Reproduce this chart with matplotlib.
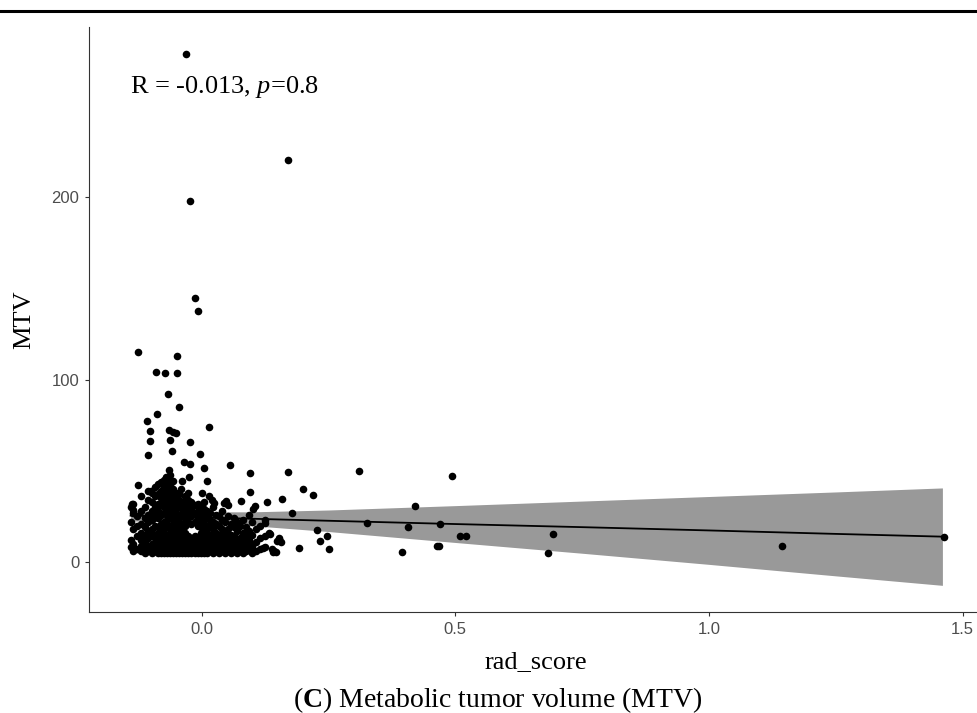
import numpy as np
import matplotlib
matplotlib.use("Agg")
from matplotlib import pyplot as plt
from matplotlib.lines import Line2D

plt.rcParams['mathtext.fontset'] = 'custom'
plt.rcParams['mathtext.rm'] = 'Liberation Serif'
plt.rcParams['mathtext.it'] = 'Liberation Serif:italic'
plt.rcParams['mathtext.bf'] = 'Liberation Serif:bold'

# sparse points (rad_score, MTV)
outlier_x = [-0.031, 0.171, -0.023, -0.014, -0.008, -0.125, -0.048, -0.089, -0.072, -0.048,
             -0.066, -0.045, -0.088, -0.107, 0.015, -0.102, -0.064, -0.056, -0.051, -0.102,
             -0.062, -0.023, -0.106, -0.058, -0.004, -0.034, -0.023, 0.056, 0.005, -0.064,
             -0.062, 0.095, 0.170, -0.071, -0.066, -0.056, -0.025, -0.039, 0.010, -0.125,
             -0.041, 0.199, 0.219, -0.100, 0.096, 0.000, 0.015, 0.020, 0.024, 0.049,
             0.045, 0.078, 0.128, 0.159, 0.101, 0.105, 0.179, -0.138, -0.135, 0.228,
             0.233, 0.248, 0.251, 0.192, 0.121, 0.138, 0.142, 0.152, 0.156, 0.132,
             0.135, 0.311, 0.493, 0.421, 0.099, 0.124, 0.325, 0.406, 0.470, 0.509,
             0.521, 0.394, 0.463, 0.468, 0.148, 0.153, 0.141, 0.147, 0.100, 0.693,
             0.683, 1.144, 1.463]
outlier_y = [278.4, 220.3, 197.6, 144.5, 137.7, 114.9, 112.9, 104.1, 103.6, 103.6,
             92.2, 85.1, 80.9, 77.4, 74.0, 71.6, 72.2, 71.4, 70.7, 66.1,
             66.8, 65.6, 58.8, 60.7, 59.2, 55.0, 53.9, 53.3, 51.5, 50.2,
             47.5, 48.6, 49.1, 46.7, 45.1, 44.5, 46.7, 44.2, 44.4, 42.0,
             40.2, 39.8, 36.7, 38.7, 38.5, 38.0, 36.2, 34.0, 32.5, 33.6,
             32.2, 33.6, 32.7, 34.4, 29.2, 30.7, 26.7, 31.8, 28.5, 17.7,
             11.7, 14.2, 7.3, 7.7, 7.7, 7.1, 6.2, 12.4, 10.8, 15.7,
             15.3, 49.7, 47.1, 30.7, 21.7, 21.2, 21.2, 19.4, 20.7, 14.2,
             14.2, 5.6, 8.9, 8.9, 11.5, 13.0, 5.6, 5.6, 9.3, 15.3,
             5.1, 8.8, 13.9]

# dense cluster near zero, column by column
cluster_x = [-0.140, -0.135, -0.128, -0.120, -0.112, -0.105, -0.098, -0.092, -0.086, -0.080,
             -0.074, -0.068, -0.062, -0.056, -0.050, -0.044, -0.038, -0.032, -0.026, -0.020,
             -0.014, -0.008, -0.002, 0.004, 0.010, 0.016, 0.022, 0.028, 0.034, 0.040,
             0.046, 0.052, 0.058, 0.064, 0.070, 0.076, 0.082, 0.088, 0.094, 0.100,
             0.108, 0.116, 0.125]
cluster_y = [
    [8, 12, 22, 30],
    [6, 10, 18, 27, 32],
    [7, 14, 20, 25],
    [6, 9, 12, 16, 21, 28, 36],
    [5, 8, 11, 15, 19, 24, 30],
    [6, 9, 13, 17, 22, 26, 34, 39],
    [5, 7, 10, 14, 18, 23, 28, 33, 38],
    [6, 8, 11, 15, 20, 25, 30, 36, 41],
    [5, 7, 9, 12, 16, 19, 24, 28, 32, 37, 43],
    [5, 6, 8, 10, 13, 17, 21, 26, 31, 35, 39, 44],
    [5, 7, 9, 11, 14, 18, 22, 27, 30, 34, 38, 41, 45],
    [5, 6, 8, 10, 12, 15, 19, 23, 26, 29, 33, 37, 40, 43],
    [5, 7, 9, 11, 13, 16, 20, 24, 28, 31, 35, 39, 42],
    [5, 6, 8, 10, 12, 14, 17, 21, 25, 29, 33, 36, 40],
    [5, 7, 9, 11, 13, 16, 19, 23, 27, 31, 35, 38],
    [5, 6, 8, 10, 12, 15, 18, 22, 26, 30, 34, 37],
    [5, 7, 9, 11, 14, 17, 21, 25, 29, 33],
    [5, 6, 8, 10, 13, 16, 20, 24, 28, 31, 36],
    [5, 7, 9, 12, 14, 22, 26, 30, 34, 38],
    [5, 6, 8, 11, 13, 21, 25, 29, 33],
    [5, 7, 9, 11, 14, 22, 27, 31],
    [5, 6, 8, 10, 13, 20, 24, 28, 32],
    [5, 7, 9, 12, 16, 19, 23, 27, 30],
    [5, 6, 8, 11, 14, 17, 21, 25, 29, 33],
    [5, 7, 10, 13, 16, 20, 24, 28],
    [6, 8, 11, 15, 19, 23, 27],
    [5, 7, 10, 14, 18, 22, 30],
    [6, 9, 12, 16, 21, 26],
    [5, 8, 11, 15, 20, 25],
    [6, 10, 14, 18, 23, 28],
    [5, 7, 12, 16, 22],
    [6, 9, 13, 18, 25, 31],
    [5, 8, 11, 15, 21],
    [6, 10, 14, 19, 24],
    [5, 7, 12, 17, 22],
    [6, 9, 13, 20],
    [5, 8, 11, 16, 23],
    [6, 10, 14, 19],
    [7, 12, 17, 26],
    [5, 9, 15],
    [6, 11, 18],
    [7, 13, 20],
    [8, 14, 23],
]

# regression line and its confidence band
reg_x = [-0.14, -0.05, 0.10, 0.25, 0.50, 0.75, 1.00, 1.25, 1.46]
reg_fit = [25.4, 24.8, 23.7, 22.6, 20.8, 19.1, 17.3, 15.4, 13.9]
band_lo = [22.5, 22.1, 19.9, 16.7, 10.7, 4.8, -1.3, -7.6, -12.8]
band_hi = [28.3, 27.5, 27.5, 28.5, 30.9, 33.4, 35.9, 38.4, 40.6]

x_ticks = [0.0, 0.5, 1.0, 1.5]
x_ticklabels = ["0.0", "0.5", "1.0", "1.5"]
y_ticks = [0, 100, 200]
stat_text = r"R = -0.013, $p$=0.8"

# put everything together
xs = list(outlier_x)
ys = list(outlier_y)
for cx, col in zip(cluster_x, cluster_y):
    for v in col:
        xs.append(cx)
        ys.append(v)
x = np.array(xs)
y = np.array(ys)

fig = plt.figure(figsize=(9.77, 7.13), dpi=100)
ax = fig.add_axes([89 / 977, 101 / 713, 894 / 977, 585 / 713])

ax.scatter(x, y, s=30, color="black", lw=0, zorder=2)
# black at 40% alpha -> grey on white, dots stay black
ax.fill_between(reg_x, band_lo, band_hi, color="black", alpha=0.4, lw=0, zorder=3)
ax.plot(reg_x, reg_fit, color="black", lw=1.3, zorder=4)

ax.set_xlim(-0.222, 1.540)
ax.set_ylim(-27.4, 293.2)
ax.set_xticks(x_ticks)
ax.set_xticklabels(x_ticklabels)
ax.set_yticks(y_ticks)

for sp in ["top", "right"]:
    ax.spines[sp].set_visible(False)
for sp in ["left", "bottom"]:
    ax.spines[sp].set_color("#333333")
    ax.spines[sp].set_linewidth(0.8)
ax.tick_params(length=3, width=0.8, color="#333333", labelcolor="#4D4D4D",
               labelsize=12, pad=4)
for lab in ax.get_xticklabels() + ax.get_yticklabels():
    lab.set_family("Liberation Sans")

ax.set_xlabel("rad_score", family="Liberation Serif", fontsize=19, labelpad=10)
ax.set_ylabel("MTV", family="Liberation Serif", fontsize=19, labelpad=12)

ax.text(-0.141, 257.2, stat_text, family="Liberation Serif", fontsize=19,
        ha="left", va="baseline")

fig.text(498 / 977, 1 - 700 / 713, r"($\mathbf{C}$) Metabolic tumor volume (MTV)",
         family="Liberation Serif", fontsize=20, ha="center", va="center")

fig.add_artist(Line2D([0, 1], [1 - 11 / 713, 1 - 11 / 713], color="black", lw=2.2))

fig.savefig("out.png", dpi=100)
